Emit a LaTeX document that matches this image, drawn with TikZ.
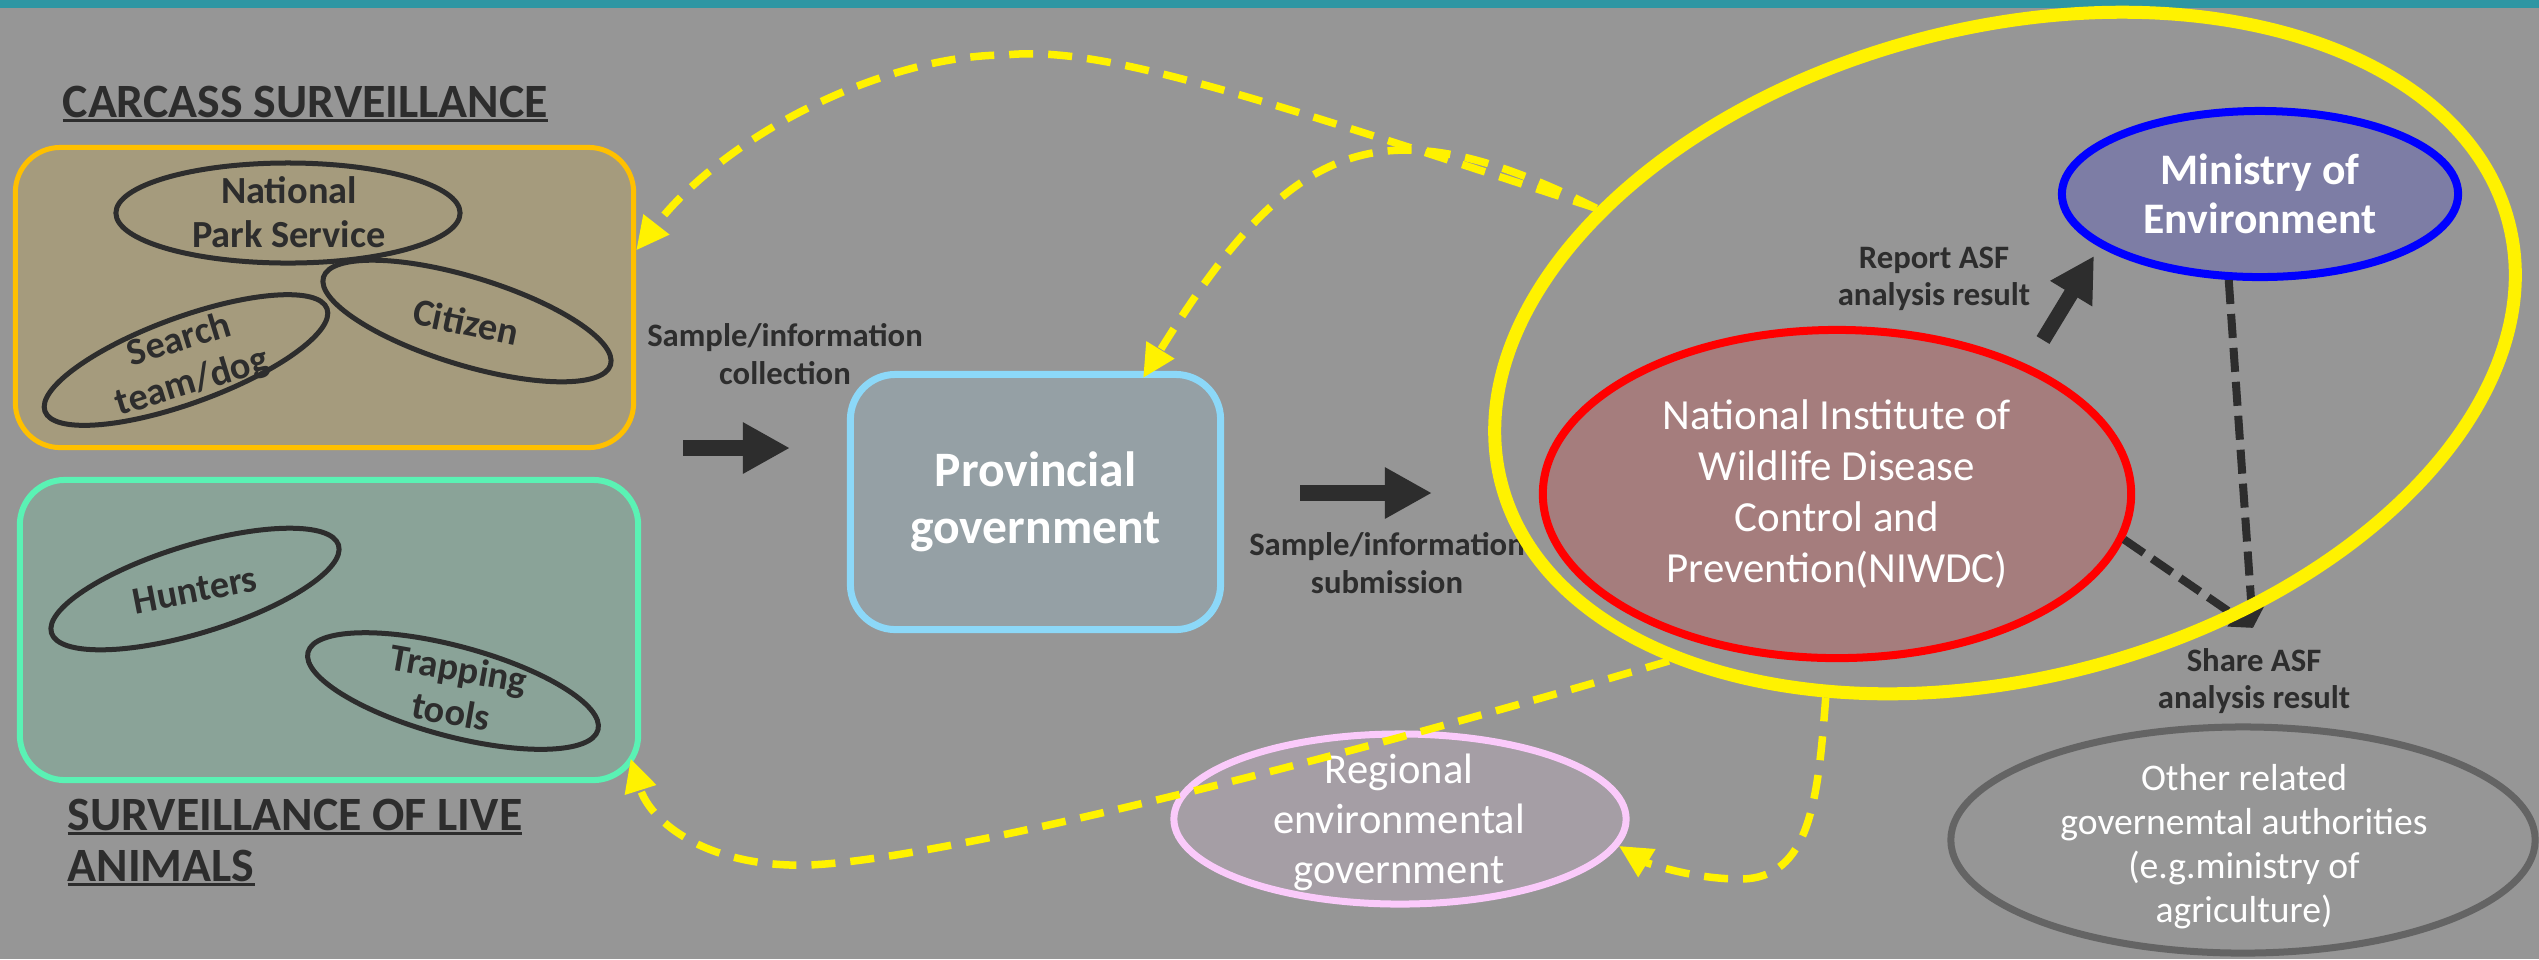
\documentclass[tikz,border=0pt]{standalone}
\usepackage{fontspec}
\setmainfont{Carlito}
\usetikzlibrary{shapes.geometric,arrows.meta}

\definecolor{bggray}{RGB}{150,150,150}
\definecolor{bandteal}{RGB}{46,150,163}
\definecolor{ink}{RGB}{45,45,45}
\definecolor{carcassfill}{RGB}{165,155,125}
\definecolor{carcassline}{RGB}{255,192,0}
\definecolor{livefill}{RGB}{138,163,152}
\definecolor{liveline}{RGB}{90,242,180}
\definecolor{provfill}{RGB}{149,160,165}
\definecolor{provline}{RGB}{140,216,248}
\definecolor{niwdcfill}{RGB}{165,125,125}
\definecolor{moefill}{RGB}{125,125,165}
\definecolor{regfill}{RGB}{165,158,165}
\definecolor{regline}{RGB}{250,202,250}
\definecolor{otherline}{RGB}{100,100,100}

% text with a rule drawn just under its baseline
\newcommand\undertext[1]{\setbox0=\hbox{#1}\rlap{\vrule width\wd0 height -0.5pt depth 1.3pt}\box0}

\begin{document}
\begin{tikzpicture}[x=0.01cm, y=-0.01cm,
  panel/.style={rectangle, rounded corners=0.45cm, inner sep=0pt},
  member/.style={ellipse, draw=ink, line width=0.05cm, inner sep=0pt},
  membertext/.style={text=ink, align=center, inner sep=0pt, font=\fontsize{10.9}{12.5}\selectfont\bfseries},
  heading/.style={text=ink, inner sep=0pt, font=\fontsize{13.6}{14.5}\selectfont\bfseries},
  flowlabel/.style={text=ink, align=center, inner sep=0pt, font=\fontsize{9.3}{10.6}\selectfont\bfseries},
  agency/.style={ellipse, inner sep=0pt},
  whitetext/.style={text=white, align=center, inner sep=0pt},
  blockarrow/.style={draw=ink, line width=0.16cm, -{Triangle[length=0.47cm, width=0.48cm]}},
  yflow/.style={draw=yellow, line width=0.075cm, dash pattern=on 0.24cm off 0.15cm, -{Triangle[length=0.33cm, width=0.31cm]}},
  shareflow/.style={draw=ink, line width=0.08cm, dash pattern=on 0.24cm off 0.10cm, -{Triangle[length=0.22cm, width=0.25cm]}}
]

% canvas
\fill[bggray] (0,0) rectangle (2539,959);
\useasboundingbox (0,0) rectangle (2539,959);
\fill[bandteal] (0,0) rectangle (2539,8);

% carcass surveillance panel
\node[heading, anchor=base west] (carcasshead) at (62,117) {\undertext{CARCASS SURVEILLANCE}};
\node[panel, draw=carcassline, fill=carcassfill, line width=0.05cm,
      minimum width=6.18cm, minimum height=3.00cm] (carcass) at (324.5,297.5) {};
\node[member, minimum width=3.44cm, minimum height=1.00cm] (nps) at (288,213) {};
\node[member, rotate=20, minimum width=3.00cm, minimum height=0.86cm] (search) at (186,360) {};
\node[member, rotate=-17, minimum width=3.00cm, minimum height=0.88cm] (citizen) at (467,321) {};
\node[membertext] (npstxt) at (289,212) {National\\Park Service};
\node[membertext, rotate=17] (searchtxt) at (186,362) {Search\\team/dog};
\node[membertext, rotate=-12] (citizentxt) at (466,322) {Citizen};

% live animal surveillance panel
\node[panel, draw=liveline, fill=livefill, line width=0.06cm,
      minimum width=6.18cm, minimum height=3.00cm] (live) at (329,630) {};
\node[member, rotate=17, minimum width=3.00cm, minimum height=0.88cm] (hunters) at (195,589) {};
\node[member, rotate=-15, minimum width=3.00cm, minimum height=0.90cm] (trapping) at (453,691) {};
\node[membertext, rotate=11] (hunterstxt) at (195,590) {Hunters};
\node[membertext, rotate=-10] (trappingtxt) at (455,690) {Trapping\\tools};
\node[heading, anchor=west, align=left] (livehead) at (67,842.5)
  {\undertext{SURVEILLANCE OF LIVE}\\\undertext{ANIMALS}};

% provincial level
\node[flowlabel] (collect) at (785,354) {Sample/information\\collection};
\coordinate (collectA) at (683,448);
\coordinate (collectB) at (790,448);
\draw[blockarrow] (collectA) -- (collectB);

\node[panel, draw=provline, fill=provfill, line width=0.07cm,
      minimum width=3.70cm, minimum height=2.55cm,
      text=white, align=center, font=\fontsize{14.1}{16.2}\selectfont\bfseries] (prov) at (1035.5,502)
  {Provincial\\government};

\node[flowlabel] (submit) at (1387,563) {Sample/information\\submission};
\coordinate (submitA) at (1300,493);
\coordinate (submitB) at (1432,493);
\draw[blockarrow] (submitA) -- (submitB);

% national level
\node[agency, draw=red, fill=niwdcfill, line width=0.08cm,
      minimum width=5.88cm, minimum height=3.28cm,
      text=white, align=center, font=\fontsize{12.2}{14.5}\selectfont] (niwdc) at (1837,494)
  {National Institute of\\Wildlife Disease\\Control and\\Prevention(NIWDC)};
\node[agency, draw=blue, fill=moefill, line width=0.08cm,
      minimum width=3.96cm, minimum height=1.66cm,
      text=white, align=center, font=\fontsize{12.4}{13.9}\selectfont\bfseries] (ministry) at (2260,194)
  {Ministry of\\Environment};

\node[flowlabel] (report) at (1934,279) {Report ASF\\analysis result};
\coordinate (reportA) at (2043,340);
\coordinate (reportB) at (2094,256);
\draw[draw=ink, line width=0.15cm, -{Triangle[length=0.44cm, width=0.46cm]}] (reportA) -- (reportB);

\node[flowlabel] (share) at (2254,681) {Share ASF\\analysis result};
\coordinate (sharept) at (2253,628);
\draw[shareflow] (niwdc.-9.5) -- (sharept);
\draw[shareflow] (ministry.250) -- (sharept);

% other authorities
\node[agency, draw=regline, fill=regfill, line width=0.07cm,
      minimum width=4.52cm, minimum height=1.70cm] (regional) at (1400,819) {};
\node[whitetext, font=\fontsize{12.1}{14.2}\selectfont] (regionaltxt) at (1399,822)
  {Regional\\environmental\\government};
\node[agency, draw=otherline, line width=0.07cm,
      minimum width=5.84cm, minimum height=2.26cm] (other) at (2243,840) {};
\node[whitetext, font=\fontsize{10.7}{12.5}\selectfont] (othertxt) at (2244,847)
  {Other related\\governemtal authorities\\(e.g.ministry of\\agriculture)};

% central authority ring
\node[agency, draw=yellow, line width=0.13cm, rotate=14.5,
      minimum width=10.4cm, minimum height=6.5cm] (ring) at (2005,353) {};

% feedback flows from the ring
\draw[yflow] (ring.146.4) .. controls (1250,95) and (1100,45) .. (1005,55)
  .. controls (890,55) and (730,130) .. ([yshift=13.4pt]carcass.east);
\draw[yflow] (ring.146.4) .. controls (1380,100) and (1290,140) .. ([xshift=30.6pt,yshift=-2pt]prov.north);
\draw[yflow] (ring.208) .. controls (1300,770) and (900,870) .. (790,865)
  .. controls (700,862) and (650,820) .. ([xshift=-3pt,yshift=7pt]live.south east);
\draw[yflow] (ring.228.6) .. controls (1818,800) and (1810,879) .. (1740,879)
  .. controls (1690,879) and (1645,862) .. (regional.-7.5);

\end{tikzpicture}
\end{document}
